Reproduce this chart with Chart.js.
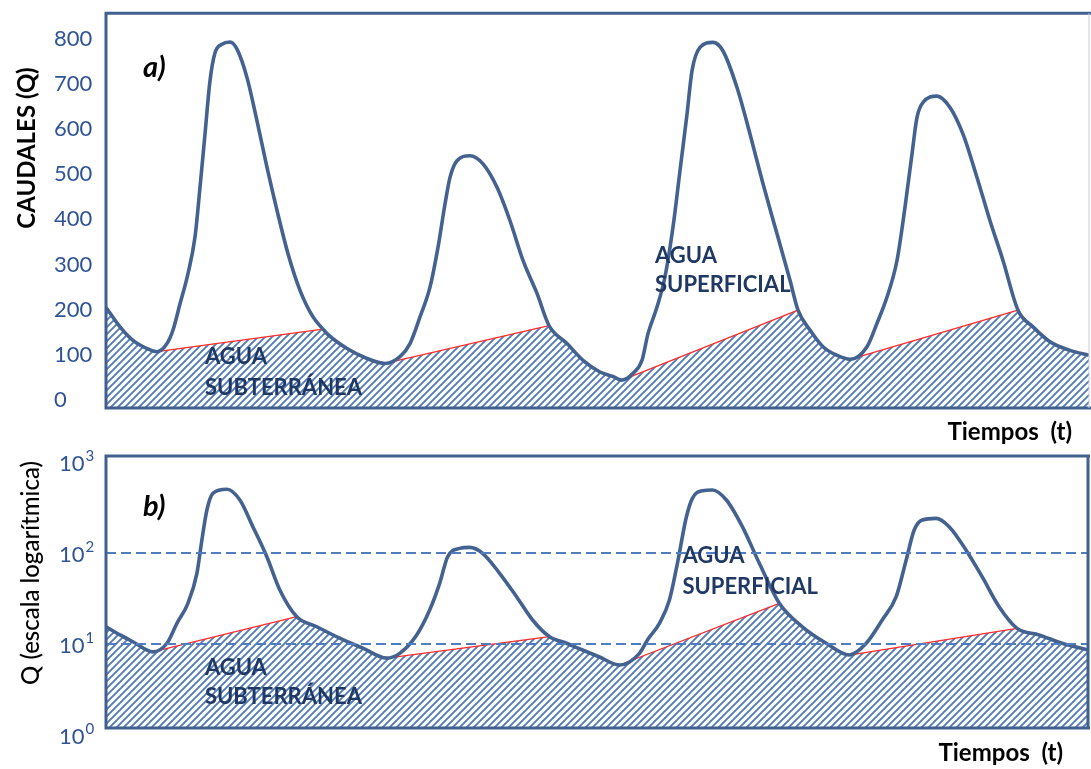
<!DOCTYPE html>
<html>
<head>
<meta charset="utf-8">
<script src="https://cdn.jsdelivr.net/npm/chart.js@4/dist/chart.umd.min.js"></script>
<style>
  html, body { margin: 0; padding: 0; background: #ffffff; overflow: hidden; }
  #panelA { position: absolute; left: 0; top: 0; width: 1091px; height: 445px; }
  #panelB { position: absolute; left: 0; top: 445px; width: 1091px; height: 324px; }
</style>
</head>
<body>
<div id="panelA"><canvas id="chartA"></canvas></div>
<div id="panelB"><canvas id="chartB"></canvas></div>
<script>
// ---- Time axis (arbitrary units) ----
const timeRange = [0, 98.3];

// ---- a) Hydrograph, linear discharge scale ----
const timeA = [0, 1.4, 2.7, 4.1, 5.1, 6.1, 6.7, 7.4, 8.2, 8.9, 9.4, 9.9, 10.4, 10.9, 11.6,
  12.4, 13.1, 14.1, 15.1, 16.1, 17.1, 18.2, 19.4, 20.7, 21.7, 22.1, 24.1, 26.1, 27.9, 29.4,
  30.4, 31.4, 32.4, 33.2, 33.9, 34.4, 35.1, 36.4, 37.7, 39.1, 40.4, 41.7, 43.1, 44.3, 46.1,
  47.7, 49.4, 50.7, 51.6, 52.7, 53.6, 54.2, 55.1, 55.9, 56.7, 57.4, 58.1, 58.6, 59.4, 60.7,
  61.7, 63.1, 64.4, 65.7, 67.1, 68.4, 69.2, 70.4, 71.7, 73.1, 74.4, 76.1, 77.1, 78.1, 79.1,
  79.9, 80.6, 81.1, 81.7, 83.1, 84.4, 85.7, 87.1, 88.4, 89.7, 91.2, 92.7, 94.4, 96.4, 98.3];
const flowA = [205, 162, 132, 114, 107, 125, 155, 213, 280, 361, 471, 589, 707, 769, 788,
  793, 777, 714, 618, 515, 420, 324, 243, 184, 157, 147, 114, 92, 81, 96,
  125, 184, 250, 338, 434, 493, 530, 541, 523, 471, 397, 309, 236, 165, 125,
  88, 62, 52, 44, 59, 88, 147, 206, 273, 383, 508, 633, 729, 781, 792,
  773, 692, 589, 479, 368, 265, 199, 155, 118, 99, 90, 118, 170, 228, 309,
  427, 545, 626, 659, 673, 648, 589, 493, 397, 309, 199, 162, 129, 110, 99];
// baseflow (groundwater) component: recession limbs joined by separation lines
const baseTimeA = [0, 1.4, 2.7, 4.1, 5.1, 21.7, 22.1, 24.1, 26.1, 27.9, 44.3, 46.1, 47.7,
  49.4, 50.7, 51.6, 69.2, 70.4, 71.7, 73.1, 74.4, 91.2, 92.7, 94.4, 96.4, 98.3];
const baseFlowA = [205, 162, 132, 114, 107, 157, 147, 114, 92, 81, 165, 125, 88,
  62, 52, 44, 199, 155, 118, 99, 90, 199, 162, 129, 110, 99];
const ticksA = [0, 100, 200, 300, 400, 500, 600, 700, 800];

// ---- b) Same hydrograph, logarithmic discharge scale ----
const timeB = [0, 1.4, 2.7, 4.7, 6.1, 7.1, 8.2, 9.1, 9.6, 10.1, 10.7, 12.1, 13.4, 14.7, 16.1,
  17.4, 19.1, 21.1, 23.4, 25.7, 28.1, 29.4, 31.1, 32.4, 33.4, 34.2, 35.4, 36.4, 37.7, 39.4,
  41.1, 42.7, 44.4, 46.1, 47.7, 49.4, 51.4, 53.4, 54.2, 55.4, 56.4, 57.2, 58.1, 58.7, 59.7,
  60.7, 62.1, 63.7, 65.4, 67.4, 69.7, 72.1, 74.4, 76.1, 77.7, 79.1, 80.1, 80.9, 81.7, 83.1,
  84.4, 86.1, 87.7, 89.4, 91.2, 93.4, 95.7, 98.3];
const flowB = [15.5, 12.6, 10.6, 8.2, 10.2, 16.9, 28.1, 60.1, 140, 299, 456, 505, 385, 196, 91.5,
  39.4, 20.0, 15.5, 11.6, 9.0, 7.0, 7.9, 12.6, 23.7, 46.6, 91.5, 113, 116, 99.8, 60.1,
  33.2, 18.4, 12.05, 10.2, 8.6, 7.2, 5.88, 7.9, 11.1, 16.9, 30.5, 77.4, 252, 402, 488,
  496, 385, 196, 77.4, 28.1, 15.5, 10.2, 7.57, 10.2, 18.4, 33.2, 84.2, 180, 232, 242,
  196, 108, 55.1, 25.8, 14.9, 12.6, 10.2, 8.6];
const baseTimeB = [0, 1.4, 2.7, 4.7, 19.1, 21.1, 23.4, 25.7, 28.1, 44.4, 46.1, 47.7, 49.4,
  51.4, 67.4, 69.7, 72.1, 74.4, 91.2, 93.4, 95.7, 98.3];
const baseFlowB = [15.5, 12.6, 10.6, 8.2, 20.0, 15.5, 11.6, 9.0, 7.0, 12.05, 10.2, 8.6, 7.2,
  5.88, 28.1, 15.5, 10.2, 7.57, 14.9, 12.6, 10.2, 8.6];
const ticksB = [1, 10, 100, 1000];
const dashedLevelsB = [10, 100];

// ---- styling ----
const FONT = 'Lato';
const CURVE = '#43628f';
const FRAME = '#41608e';
const SEP_RED = '#ff2b2b';
const TICK_BLUE = '#2f5496';
const LABEL_NAVY = '#1f3864';

const pts = (xs, ys) => xs.map((x, i) => ({ x, y: ys[i] }));

// separation lines: the long straight spans of the baseflow, broken by gaps
function separationPts(xs, ys) {
  const out = [];
  for (let i = 0; i < xs.length - 1; i++) {
    if (xs[i + 1] - xs[i] > 5) {
      out.push({ x: xs[i], y: ys[i] }, { x: xs[i + 1], y: ys[i + 1] }, { x: xs[i + 1] + 0.01, y: null });
    }
  }
  return out;
}

function hatchPattern() {
  const s = 7;
  const c = document.createElement('canvas');
  c.width = s; c.height = s;
  const g = c.getContext('2d');
  g.strokeStyle = '#4f7bb9';
  g.lineWidth = 1.9;
  g.lineCap = 'square';
  g.beginPath();
  g.moveTo(-1, 1); g.lineTo(1, -1);
  g.moveTo(0, s); g.lineTo(s, 0);
  g.moveTo(s - 1, s + 1); g.lineTo(s + 1, s - 1);
  g.stroke();
  return g.createPattern(c, 'repeat');
}
const HATCH = hatchPattern();

// frame round the plot area + free text
const decorations = {
  id: 'decorations',
  afterDraw(chart, args, o) {
    const { ctx, chartArea: a } = chart;
    const xs = chart.scales.x, ys = chart.scales.y;
    ctx.save();
    // frame
    ctx.strokeStyle = FRAME;
    ctx.lineWidth = 3;
    ctx.beginPath();
    ctx.moveTo(a.right + 2, a.top);
    ctx.lineTo(a.left, a.top);
    ctx.lineTo(a.left, a.bottom);
    ctx.lineTo(a.right + 2, a.bottom);
    ctx.stroke();
    ctx.strokeStyle = o.rightColor;
    ctx.lineWidth = o.rightWidth;
    ctx.beginPath();
    ctx.moveTo(a.right, a.top);
    ctx.lineTo(a.right, a.bottom);
    ctx.stroke();

    // y axis title
    ctx.fillStyle = '#000000';
    ctx.font = o.yTitle.font;
    ctx.textAlign = 'center';
    ctx.textBaseline = 'middle';
    ctx.save();
    ctx.translate(o.yTitle.x, o.yTitle.y);
    ctx.rotate(-Math.PI / 2);
    ctx.fillText(o.yTitle.text, 0, 0);
    ctx.restore();

    // x axis title
    ctx.font = 'bold 24px ' + FONT;
    ctx.textAlign = 'right';
    ctx.fillText('Tiempos  (t)', a.right - o.xTitle.inset, a.bottom + o.xTitle.below);

    // panel letter
    ctx.font = 'italic bold 29px ' + FONT;
    ctx.textAlign = 'left';
    ctx.fillText(o.panel, a.left + 37, a.top + o.panelDy);

    // component labels, anchored in data space
    ctx.fillStyle = LABEL_NAVY;
    ctx.font = 'bold 22px ' + FONT;
    o.labels.forEach(l => {
      ctx.fillText(l.text, xs.getPixelForValue(l.t), ys.getPixelForValue(l.v));
    });

    // logarithmic tick labels as powers of ten
    if (o.powerTicks) {
      ctx.fillStyle = TICK_BLUE;
      ctx.textAlign = 'left';
      ticksB.forEach(v => {
        const y = ys.getPixelForValue(v) + 2;
        ctx.font = '22px ' + FONT;
        ctx.fillText('10', 59, y);
        const w = ctx.measureText('10').width;
        ctx.font = '15px ' + FONT;
        ctx.fillText(String(Math.round(Math.log10(v))), 59 + w + 1, y - 8);
      });
    }
    ctx.restore();
  }
};

function datasets(xs, ys, bx, by) {
  return [
    {
      label: 'Caudal total',
      data: pts(xs, ys),
      borderColor: CURVE,
      borderWidth: 3.6,
      pointRadius: 0,
      fill: false,
      cubicInterpolationMode: 'monotone'
    },
    {
      label: 'Separación',
      data: separationPts(bx, by),
      borderColor: SEP_RED,
      borderWidth: 1.3,
      pointRadius: 0,
      tension: 0,
      spanGaps: false,
      fill: false
    },
    {
      label: 'Flujo base',
      data: pts(bx, by),
      borderWidth: 0,
      borderColor: 'rgba(0,0,0,0)',
      backgroundColor: HATCH,
      pointRadius: 0,
      tension: 0,
      fill: 'start'
    }
  ];
}

const common = {
  responsive: true,
  maintainAspectRatio: false,
  animation: false,
  events: [],
  plugins: { legend: { display: false }, tooltip: { enabled: false } }
};

new Chart(document.getElementById('chartA'), {
  type: 'line',
  data: { datasets: datasets(timeA, flowA, baseTimeA, baseFlowA) },
  options: {
    ...common,
    layout: { padding: { left: 54, right: 2, top: 12, bottom: 37 } },
    scales: {
      x: { type: 'linear', min: timeRange[0], max: timeRange[1], display: false },
      y: {
        type: 'linear', min: -17.7, max: 856.7,
        afterBuildTicks: s => { s.ticks = ticksA.map(v => ({ value: v })); },
        afterFit: s => { s.width = 52; },
        grid: { display: false },
        border: { display: false },
        ticks: { crossAlign: 'far', padding: 0, color: TICK_BLUE, font: { family: FONT, size: 22 } }
      }
    },
    plugins: {
      ...common.plugins,
      decorations: {
        rightColor: '#c9d1dd', rightWidth: 1,
        yTitle: { text: 'CAUDALES (Q)', font: 'bold 24px ' + FONT, x: 27, y: 148 },
        xTitle: { inset: 17, below: 24 },
        panel: 'a)', panelDy: 54,
        labels: [
          { text: 'AGUA', t: 9.9, v: 95 },
          { text: 'SUBTERRÁNEA', t: 9.9, v: 26 },
          { text: 'AGUA', t: 54.9, v: 320 },
          { text: 'SUPERFICIAL', t: 54.9, v: 254 }
        ]
      }
    }
  },
  plugins: [decorations]
});

new Chart(document.getElementById('chartB'), {
  type: 'line',
  data: { datasets: datasets(timeB, flowB, baseTimeB, baseFlowB) },
  options: {
    ...common,
    layout: { padding: { left: 60, right: 3, top: 11, bottom: 41 } },
    scales: {
      x: { type: 'linear', min: timeRange[0], max: timeRange[1], display: false },
      y: {
        type: 'logarithmic', min: 1.191, max: 1174.7,
        afterBuildTicks: s => { s.ticks = ticksB.map(v => ({ value: v })); },
        afterFit: s => { s.width = 46; },
        ticks: { display: false },
        border: { display: false, dash: [10, 5] },
        grid: {
          z: 1,
          drawTicks: false,
          lineWidth: 2,
          color: c => (c.tick && dashedLevelsB.includes(c.tick.value) ? '#4f7dbf' : 'rgba(0,0,0,0)')
        }
      }
    },
    plugins: {
      ...common.plugins,
      decorations: {
        rightColor: FRAME, rightWidth: 3,
        yTitle: { text: 'Q (escala logarítmica)', font: '500 24px ' + FONT, x: 31, y: 128 },
        xTitle: { inset: 25, below: 25 },
        panel: 'b)', panelDy: 51,
        powerTicks: true,
        labels: [
          { text: 'AGUA', t: 9.9, v: 5.45 },
          { text: 'SUBTERRÁNEA', t: 9.9, v: 2.61 },
          { text: 'AGUA', t: 57.7, v: 93 },
          { text: 'SUPERFICIAL', t: 57.7, v: 42.5 }
        ]
      }
    }
  },
  plugins: [decorations]
});
</script>
</body>
</html>
